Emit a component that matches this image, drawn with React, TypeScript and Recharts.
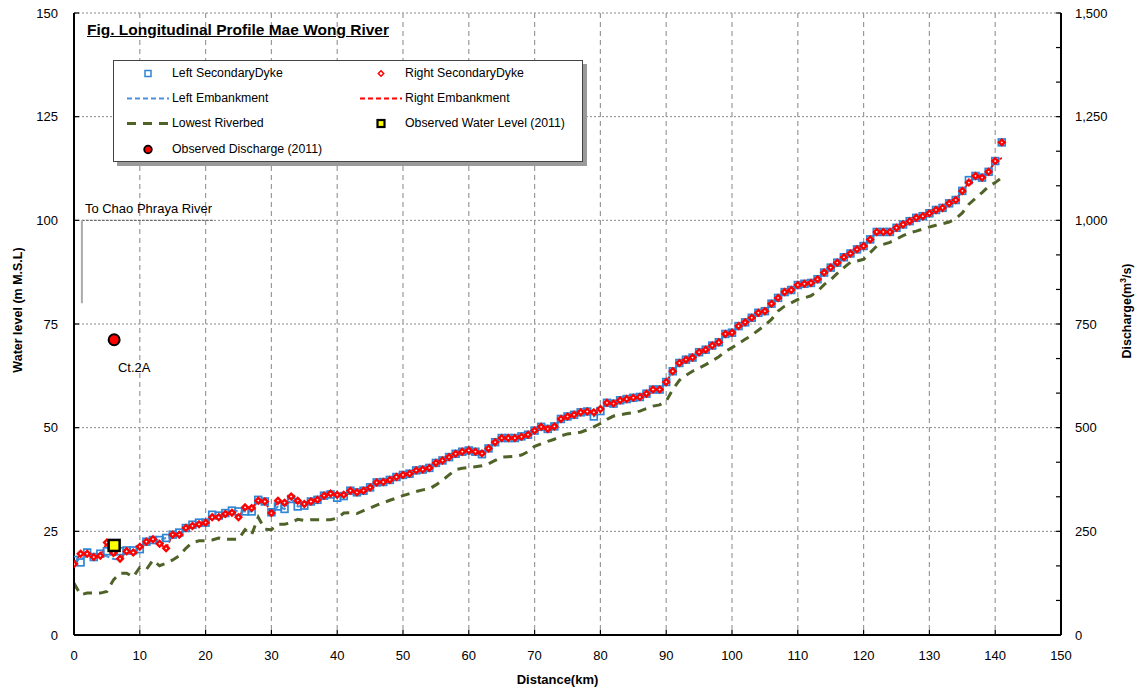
import React from 'react';
import { ComposedChart, Line, XAxis, YAxis, CartesianGrid, Legend, ReferenceLine, LabelList } from 'recharts';

const FONT = '"Liberation Sans", Arial, Helvetica, sans-serif';

const distanceKm = [
  0, 1, 2, 3, 4, 5, 6, 7, 8, 9, 10, 11, 12, 13, 14, 15, 16, 17, 18, 19,
  20, 21, 22, 23, 24, 25, 26, 27, 28, 29, 30, 31, 32, 33, 34, 35, 36, 37, 38, 39,
  40, 41, 42, 43, 44, 45, 46, 47, 48, 49, 50, 51, 52, 53, 54, 55, 56, 57, 58, 59,
  60, 61, 62, 63, 64, 65, 66, 67, 68, 69, 70, 71, 72, 73, 74, 75, 76, 77, 78, 79,
  80, 81, 82, 83, 84, 85, 86, 87, 88, 89, 90, 91, 92, 93, 94, 95, 96, 97, 98, 99,
  100, 101, 102, 103, 104, 105, 106, 107, 108, 109, 110, 111, 112, 113, 114, 115, 116, 117, 118, 119,
  120, 121, 122, 123, 124, 125, 126, 127, 128, 129, 130, 131, 132, 133, 134, 135, 136, 137, 138, 139,
  140, 141,
];

const leftSecondaryDyke = [
  18.1, 17.5, 19.9, 18.8, 19.6, 20.2, 20.2, 20.2, 20.4, 20.4,
  20.7, 22.5, 22.9, 22.9, 23.4, 24.2, 24.7, 25.8, 26.6, 27.1,
  27.1, 29.0, 28.8, 29.4, 30.0, 29.8, 29.8, 29.8, 32.6, 32.2,
  29.6, 31.0, 30.4, 32.8, 31.0, 31.2, 32.2, 32.6, 33.6, 33.9,
  33.1, 33.5, 34.8, 34.4, 34.8, 35.6, 36.8, 36.9, 37.4, 38.1,
  38.6, 38.9, 39.7, 39.9, 40.3, 41.5, 42.1, 42.9, 43.7, 44.2,
  44.5, 44.2, 43.6, 45.0, 46.5, 47.5, 47.5, 47.5, 47.9, 48.3,
  49.3, 50.2, 49.7, 50.3, 52.1, 52.7, 53.1, 53.7, 53.9, 52.7,
  54.0, 56.0, 55.8, 56.6, 56.9, 57.2, 57.4, 58.2, 59.2, 59.2,
  61.0, 63.6, 65.6, 66.4, 66.9, 68.2, 68.8, 69.8, 70.6, 72.6,
  72.9, 74.5, 75.4, 76.5, 77.7, 78.1, 79.9, 81.3, 82.7, 83.2,
  84.4, 84.7, 84.9, 85.8, 87.4, 88.6, 89.8, 91.1, 92.0, 93.0,
  93.8, 95.4, 97.2, 97.2, 97.2, 98.2, 99.0, 99.8, 100.6, 101.0,
  101.7, 102.5, 103.0, 104.1, 104.9, 107.1, 109.7, 110.7, 110.3, 111.7,
  114.3, 118.8,
];

const rightSecondaryDyke = [
  17.1, 19.6, 19.6, 18.8, 19.1, 22.3, 19.8, 18.4, 20.2, 19.9,
  21.3, 22.5, 23.1, 22.0, 20.9, 24.2, 24.2, 25.8, 26.3, 26.7,
  27.1, 28.4, 28.4, 29.2, 29.5, 28.4, 30.8, 30.6, 32.4, 32.2,
  29.4, 32.4, 31.9, 33.4, 32.4, 31.6, 32.2, 32.6, 33.6, 34.1,
  33.8, 33.8, 34.8, 34.4, 34.8, 35.6, 36.8, 36.9, 37.4, 38.1,
  38.6, 38.9, 39.7, 39.9, 40.3, 41.5, 42.1, 42.9, 43.7, 44.2,
  44.5, 44.2, 43.8, 45.0, 46.5, 47.5, 47.5, 47.5, 47.8, 48.3,
  49.3, 50.2, 49.7, 50.3, 52.1, 52.7, 53.1, 53.7, 53.9, 53.7,
  54.5, 56.0, 55.8, 56.6, 56.9, 57.2, 57.4, 58.2, 59.2, 59.2,
  61.0, 63.6, 65.6, 66.4, 66.9, 68.2, 68.8, 69.8, 70.6, 72.6,
  72.9, 74.5, 75.4, 76.5, 77.7, 78.1, 79.9, 81.3, 82.7, 83.2,
  84.4, 84.7, 84.9, 85.8, 87.4, 88.6, 89.8, 91.1, 92.0, 93.0,
  93.8, 95.4, 97.2, 97.2, 97.2, 98.2, 99.0, 99.8, 100.6, 101.0,
  101.7, 102.5, 103.0, 104.1, 104.9, 107.1, 109.1, 110.7, 110.3, 111.7,
  114.3, 118.8,
];

const leftEmbankment = [
  17.8, 18.3, 19.0, 19.4, 19.5, 19.0, 18.3, 18.2, 19.6, 20.2,
  20.7, 22.5, 22.9, 22.9, 23.4, 24.2, 24.7, 25.8, 26.6, 27.1,
  27.1, 29.0, 28.8, 29.4, 30.0, 29.8, 29.8, 29.8, 32.6, 32.2,
  29.6, 31.0, 30.4, 32.8, 31.0, 31.2, 32.2, 32.6, 33.6, 33.9,
  33.1, 33.5, 34.8, 34.4, 34.8, 35.6, 36.8, 36.9, 37.4, 38.1,
  38.6, 38.9, 39.7, 39.9, 40.3, 41.5, 42.1, 42.9, 43.7, 44.2,
  44.5, 44.2, 43.6, 45.0, 46.5, 47.5, 47.5, 47.5, 47.9, 48.3,
  49.3, 50.2, 49.7, 50.3, 52.1, 52.7, 53.1, 53.7, 53.9, 52.7,
  54.0, 56.0, 55.8, 56.6, 56.9, 57.2, 57.4, 58.2, 59.2, 59.2,
  61.0, 63.6, 65.6, 66.4, 66.9, 68.2, 68.8, 69.8, 70.6, 72.6,
  72.9, 74.5, 75.4, 76.5, 77.7, 78.1, 79.9, 81.3, 82.7, 83.2,
  84.4, 84.7, 84.9, 85.8, 87.4, 88.6, 89.8, 91.1, 92.0, 93.0,
  93.8, 95.4, 97.2, 97.2, 97.2, 98.2, 99.0, 99.8, 100.6, 101.0,
  101.7, 102.5, 103.0, 104.1, 104.9, 107.1, 109.7, 110.7, 110.3, 111.7,
  114.3, 115.0,
];

const rightEmbankment = [
  17.1, 19.6, 19.6, 18.8, 19.1, 22.3, 19.8, 18.4, 20.2, 19.9,
  21.3, 22.5, 23.1, 22.0, 20.9, 24.2, 24.2, 25.8, 26.3, 26.7,
  27.1, 28.4, 28.4, 29.2, 29.5, 28.4, 30.8, 30.6, 32.4, 32.2,
  29.4, 32.4, 31.9, 33.4, 32.4, 31.6, 32.2, 32.6, 33.6, 34.1,
  33.8, 33.8, 34.8, 34.4, 34.8, 35.6, 36.8, 36.9, 37.4, 38.1,
  38.6, 38.9, 39.7, 39.9, 40.3, 41.5, 42.1, 42.9, 43.7, 44.2,
  44.5, 44.2, 43.8, 45.0, 46.5, 47.5, 47.5, 47.5, 47.8, 48.3,
  49.3, 50.2, 49.7, 50.3, 52.1, 52.7, 53.1, 53.7, 53.9, 53.7,
  54.5, 56.0, 55.8, 56.6, 56.9, 57.2, 57.4, 58.2, 59.2, 59.2,
  61.0, 63.6, 65.6, 66.4, 66.9, 68.2, 68.8, 69.8, 70.6, 72.6,
  72.9, 74.5, 75.4, 76.5, 77.7, 78.1, 79.9, 81.3, 82.7, 83.2,
  84.4, 84.7, 84.9, 85.8, 87.4, 88.6, 89.8, 91.1, 92.0, 93.0,
  93.8, 95.4, 97.2, 97.2, 97.2, 98.2, 99.0, 99.8, 100.6, 101.0,
  101.7, 102.5, 103.0, 104.1, 104.9, 107.1, 109.1, 110.7, 110.3, 111.7,
  114.3, 115.0,
];

const lowestRiverbed = [
  12.5, 9.7, 10.1, 10.1, 10.1, 10.5, 13.3, 14.9, 14.9, 14.0,
  16.3, 15.8, 18.1, 16.7, 17.3, 18.1, 19.1, 20.9, 22.3, 22.7,
  22.7, 22.9, 23.4, 23.1, 23.1, 23.1, 25.4, 24.2, 28.4, 25.5,
  25.4, 26.7, 26.7, 27.1, 27.9, 27.6, 27.8, 27.8, 27.8, 27.8,
  28.2, 29.4, 29.5, 29.3, 30.0, 30.6, 31.3, 31.9, 32.5, 33.0,
  33.6, 34.1, 34.6, 35.0, 35.2, 36.2, 37.3, 38.6, 39.9, 40.2,
  40.4, 40.6, 40.8, 41.3, 42.1, 42.9, 43.0, 43.1, 43.4, 44.2,
  45.5, 46.1, 46.7, 47.2, 48.0, 48.5, 48.7, 48.9, 49.5, 50.2,
  51.0, 52.0, 52.8, 53.1, 53.4, 53.6, 54.0, 54.6, 55.2, 55.5,
  56.4, 59.2, 61.4, 62.6, 63.6, 64.4, 65.2, 66.1, 67.1, 68.4,
  69.3, 70.3, 71.3, 72.3, 73.5, 74.7, 76.1, 78.1, 79.3, 80.1,
  80.9, 81.3, 81.8, 82.9, 84.5, 85.7, 87.2, 88.6, 89.9, 90.2,
  90.6, 92.2, 93.8, 94.2, 94.7, 95.5, 96.3, 97.0, 97.4, 97.9,
  98.4, 98.8, 99.2, 99.6, 100.4, 101.8, 103.9, 105.3, 106.7, 108.2,
  109.1, 110.3,
];

const observedWaterLevel = [{ km: 6.1, level: 21.6 }];
const observedDischarge = [{ km: 6.1, q: 712, station: 'Ct.2A' }];

const distanceTicks = [0, 10, 20, 30, 40, 50, 60, 70, 80, 90, 100, 110, 120, 130, 140, 150];
const levelTicks = [0, 25, 50, 75, 100, 125, 150];
const dischargeLabels = [0, 250, 500, 750, 1000, 1250, 1500];
const dischargeTicks = dischargeLabels.flatMap((v, i) =>
  i < dischargeLabels.length - 1 ? [v, v + 250 / 3, v + 500 / 3] : [v]
);

const outletLine = [{ x: 1.2, y: 100 }, { x: 21.2, y: 100 }];
const outletDrop = [{ x: 1.2, y: 100 }, { x: 1.2, y: 80 }];

const profileData = distanceKm.map((km, i) => ({
  km,
  leftDyke: leftSecondaryDyke[i],
  rightDyke: rightSecondaryDyke[i],
  leftEmb: leftEmbankment[i],
  rightEmb: rightEmbankment[i],
  riverbed: lowestRiverbed[i],
}));

const BLUE_MK = '#2F86D6';
const BLUE_LN = '#4A8FDA';
const RED = '#FF0000';
const OLIVE = '#4F6228';

const SquareDot = (props: any) => {
  const { cx, cy, index } = props;
  if (cx == null || cy == null) return <g key={index} />;
  return <rect key={index} x={cx - 3.4} y={cy - 3.4} width={6.8} height={6.8} fill="none" stroke={BLUE_MK} strokeWidth={1.7} />;
};

const DiamondDot = (props: any) => {
  const { cx, cy, index } = props;
  if (cx == null || cy == null) return <g key={index} />;
  const s = 2.8;
  return (
    <polygon
      key={index}
      points={`${cx},${cy - s} ${cx + s},${cy} ${cx},${cy + s} ${cx - s},${cy}`}
      fill="#fff"
      stroke={RED}
      strokeWidth={2.4}
    />
  );
};

const WaterLevelDot = (props: any) => {
  const { cx, cy, index } = props;
  if (cx == null || cy == null) return <g key={index} />;
  return <rect key={index} x={cx - 5.5} y={cy - 5.5} width={11} height={11} fill="#FFFF00" stroke="#000" strokeWidth={2.5} />;
};

const DischargeDot = (props: any) => {
  const { cx, cy, index } = props;
  if (cx == null || cy == null) return <g key={index} />;
  return <circle key={index} cx={cx} cy={cy} r={5.5} fill={RED} stroke="#000" strokeWidth={2} />;
};

const DischargeTick = (props: any) => {
  const { x, y, payload } = props;
  const v = payload.value;
  const r = Math.round(v);
  if (Math.abs(v - r) > 0.01 || !dischargeLabels.includes(r)) return <g />;
  return (
    <text x={x} y={y} dy={4.5} textAnchor="start" fontSize={13} fill="#000" fontFamily={FONT}>
      {r.toLocaleString('en-US')}
    </text>
  );
};

const legendItems = [
  { name: 'Left SecondaryDyke', kind: 'square' },
  { name: 'Right SecondaryDyke', kind: 'diamond' },
  { name: 'Left Embankment', kind: 'blueDash' },
  { name: 'Right Embankment', kind: 'redDash' },
  { name: 'Lowest Riverbed', kind: 'oliveDash' },
  { name: 'Observed Water Level (2011)', kind: 'wl' },
  { name: 'Observed Discharge (2011)', kind: 'q' },
];

const LegendSymbol = ({ kind }: { kind: string }) => {
  let el: React.ReactNode = null;
  if (kind === 'square') el = <rect x={18} y={4.5} width={6} height={6} fill="none" stroke={BLUE_MK} strokeWidth={1.5} />;
  if (kind === 'diamond') el = <polygon points="21,4.8 23.7,7.5 21,10.2 18.3,7.5" fill="#fff" stroke={RED} strokeWidth={1.5} />;
  if (kind === 'blueDash') el = <line x1={0} y1={7.5} x2={42} y2={7.5} stroke={BLUE_LN} strokeWidth={2} strokeDasharray="5 3" />;
  if (kind === 'redDash') el = <line x1={0} y1={7.5} x2={42} y2={7.5} stroke={RED} strokeWidth={2} strokeDasharray="5 3" />;
  if (kind === 'oliveDash') el = <line x1={0} y1={7.5} x2={42} y2={7.5} stroke={OLIVE} strokeWidth={3} strokeDasharray="9 7" />;
  if (kind === 'wl') el = <rect x={17.5} y={4} width={7} height={7} fill="#FFFF00" stroke="#000" strokeWidth={2.2} />;
  if (kind === 'q') el = <circle cx={21} cy={7.5} r={3.8} fill={RED} stroke="#000" strokeWidth={1.8} />;
  return <svg width={42} height={15} style={{ display: 'block', overflow: 'visible' }}>{el}</svg>;
};

const renderLegend = () => (
  <div
    style={{
      position: 'relative',
      width: 470,
      height: 102,
      boxSizing: 'border-box',
      border: '1px solid #444',
      background: '#fff',
      boxShadow: '4px 4px 0 #9a9a9a',
      fontFamily: FONT,
    }}
  >
    {legendItems.map((it, i) => {
      const col = i % 2;
      const row = Math.floor(i / 2);
      return (
        <div
          key={it.name}
          style={{
            position: 'absolute',
            left: col === 0 ? 13 : 246,
            top: 4.5 + row * 25.4,
            height: 15,
            display: 'flex',
            alignItems: 'center',
            whiteSpace: 'nowrap',
          }}
        >
          <LegendSymbol kind={it.kind} />
          <span style={{ marginLeft: 3, fontSize: 12.3, color: '#000', lineHeight: '15px' }}>{it.name}</span>
        </div>
      );
    })}
  </div>
);

const OutletLabel = (props: any) => {
  const vb = props.viewBox || {};
  return (
    <text x={(vb.x ?? 0) + 3} y={(vb.y ?? 0) - 7} fontSize={13} fill="#000" fontFamily={FONT}>
      To Chao Phraya River
    </text>
  );
};

const StationLabel = (props: any) => {
  const { x, y, width, height, value } = props;
  const cx = x + (width || 0) / 2;
  const cy = y + (height || 0) / 2;
  return (
    <text x={cx + 20} y={cy + 32} textAnchor="middle" fontSize={13} fill="#000" fontFamily={FONT}>
      {value}
    </text>
  );
};

const LeftTitle = (props: any) => {
  const vb = props.viewBox || {};
  const x = vb.x + 18;
  const y = vb.y + vb.height / 2 - 14;
  return (
    <text x={x} y={y} transform={`rotate(-90, ${x}, ${y})`} textAnchor="middle" dominantBaseline="central" fontSize={12.5} fontWeight="bold" fill="#000" fontFamily={FONT}>
      Water level (m M.S.L)
    </text>
  );
};

const RightTitle = (props: any) => {
  const vb = props.viewBox || {};
  const x = vb.x + 66;
  const y = vb.y + vb.height / 2 - 13;
  return (
    <text x={x} y={y} transform={`rotate(-90, ${x}, ${y})`} textAnchor="middle" dominantBaseline="central" fontSize={12.5} fontWeight="bold" fill="#000" fontFamily={FONT}>
      Discharge(m<tspan dy={-4} fontSize={8.5}>3</tspan><tspan dy={4}>/s)</tspan>
    </text>
  );
};

const BottomTitle = (props: any) => {
  const vb = props.viewBox || {};
  return (
    <text x={vb.x + vb.width / 2 - 10} y={vb.y + 49} textAnchor="middle" fontSize={13} fontWeight="bold" fill="#000" fontFamily={FONT}>
      Distance(km)
    </text>
  );
};

const tickStyle = { fontSize: 13, fill: '#000', fontFamily: FONT };

export default function App() {
  return (
    <div style={{ position: 'absolute', left: 0, top: 0, width: 1141, height: 690, background: '#fff', fontFamily: FONT }}>
      <ComposedChart width={1141} height={690} data={profileData} margin={{ top: 13, right: 0, bottom: 0, left: 0 }}>
        <CartesianGrid yAxisId="left" vertical={false} stroke="#8a8a8a" strokeDasharray="2 2" />
        <CartesianGrid yAxisId="left" horizontal={false} stroke="#9a9a9a" strokeWidth={1.2} strokeDasharray="5 4" />
        <XAxis
          type="number"
          dataKey="km"
          domain={[0, 150]}
          ticks={distanceTicks}
          allowDataOverflow
          height={55}
          axisLine={{ stroke: '#000', strokeWidth: 2 }}
          tickLine={{ stroke: '#000', strokeWidth: 1.2 }}
          tickSize={-5}
          tickMargin={21}
          tick={tickStyle}
          label={<BottomTitle />}
        />
        <YAxis
          yAxisId="left"
          orientation="left"
          type="number"
          domain={[0, 150]}
          ticks={levelTicks}
          width={74}
          axisLine={{ stroke: '#000', strokeWidth: 2 }}
          tickLine={{ stroke: '#000', strokeWidth: 1.2 }}
          tickSize={-5}
          tickMargin={21}
          tick={tickStyle}
          label={<LeftTitle />}
        />
        <YAxis
          yAxisId="right"
          orientation="right"
          type="number"
          domain={[0, 1500]}
          ticks={dischargeTicks}
          width={80}
          axisLine={{ stroke: '#000', strokeWidth: 2 }}
          tickLine={{ stroke: '#000', strokeWidth: 1.2 }}
          tickSize={-5}
          tickMargin={19}
          tick={<DischargeTick />}
          interval={0}
          label={<RightTitle />}
        />
        <Legend content={renderLegend} layout="horizontal" verticalAlign="middle" wrapperStyle={{ left: 113, top: 60, width: 470, height: 102 }} />

        <ReferenceLine yAxisId="left" segment={outletLine} stroke="#666" strokeWidth={1} strokeDasharray="3 1" label={<OutletLabel />} ifOverflow="visible" />
        <ReferenceLine yAxisId="left" segment={outletDrop} stroke="#aaa" strokeWidth={2} ifOverflow="visible" />

        <Line yAxisId="left" dataKey="riverbed" name="Lowest Riverbed" stroke={OLIVE} strokeWidth={3} strokeDasharray="9 7" dot={false} activeDot={false} isAnimationActive={false} type="linear" />
        <Line yAxisId="left" dataKey="leftEmb" name="Left Embankment" stroke={BLUE_LN} strokeWidth={2} strokeDasharray="5 3" dot={false} activeDot={false} isAnimationActive={false} type="linear" />
        <Line yAxisId="left" dataKey="leftDyke" name="Left SecondaryDyke" stroke="none" dot={SquareDot} activeDot={false} isAnimationActive={false} />
        <Line yAxisId="left" dataKey="rightEmb" name="Right Embankment" stroke={RED} strokeWidth={1.8} strokeDasharray="4 2" dot={false} activeDot={false} isAnimationActive={false} type="linear" />
        <Line yAxisId="left" dataKey="rightDyke" name="Right SecondaryDyke" stroke="none" dot={DiamondDot} activeDot={false} isAnimationActive={false} />
        <Line yAxisId="left" data={observedWaterLevel} dataKey="level" name="Observed Water Level (2011)" stroke="none" dot={WaterLevelDot} activeDot={false} isAnimationActive={false} />
        <Line yAxisId="right" data={observedDischarge} dataKey="q" name="Observed Discharge (2011)" stroke="none" dot={DischargeDot} activeDot={false} isAnimationActive={false}>
          <LabelList dataKey="station" content={<StationLabel />} />
        </Line>
      </ComposedChart>
      <div
        style={{
          position: 'absolute',
          left: 87,
          top: 22,
          fontSize: 15.5,
          lineHeight: '15.5px',
          fontWeight: 'bold',
          textDecoration: 'underline',
          color: '#000',
          whiteSpace: 'nowrap',
          fontFamily: FONT,
        }}
      >
        Fig. Longitudinal Profile Mae Wong River
      </div>
    </div>
  );
}
